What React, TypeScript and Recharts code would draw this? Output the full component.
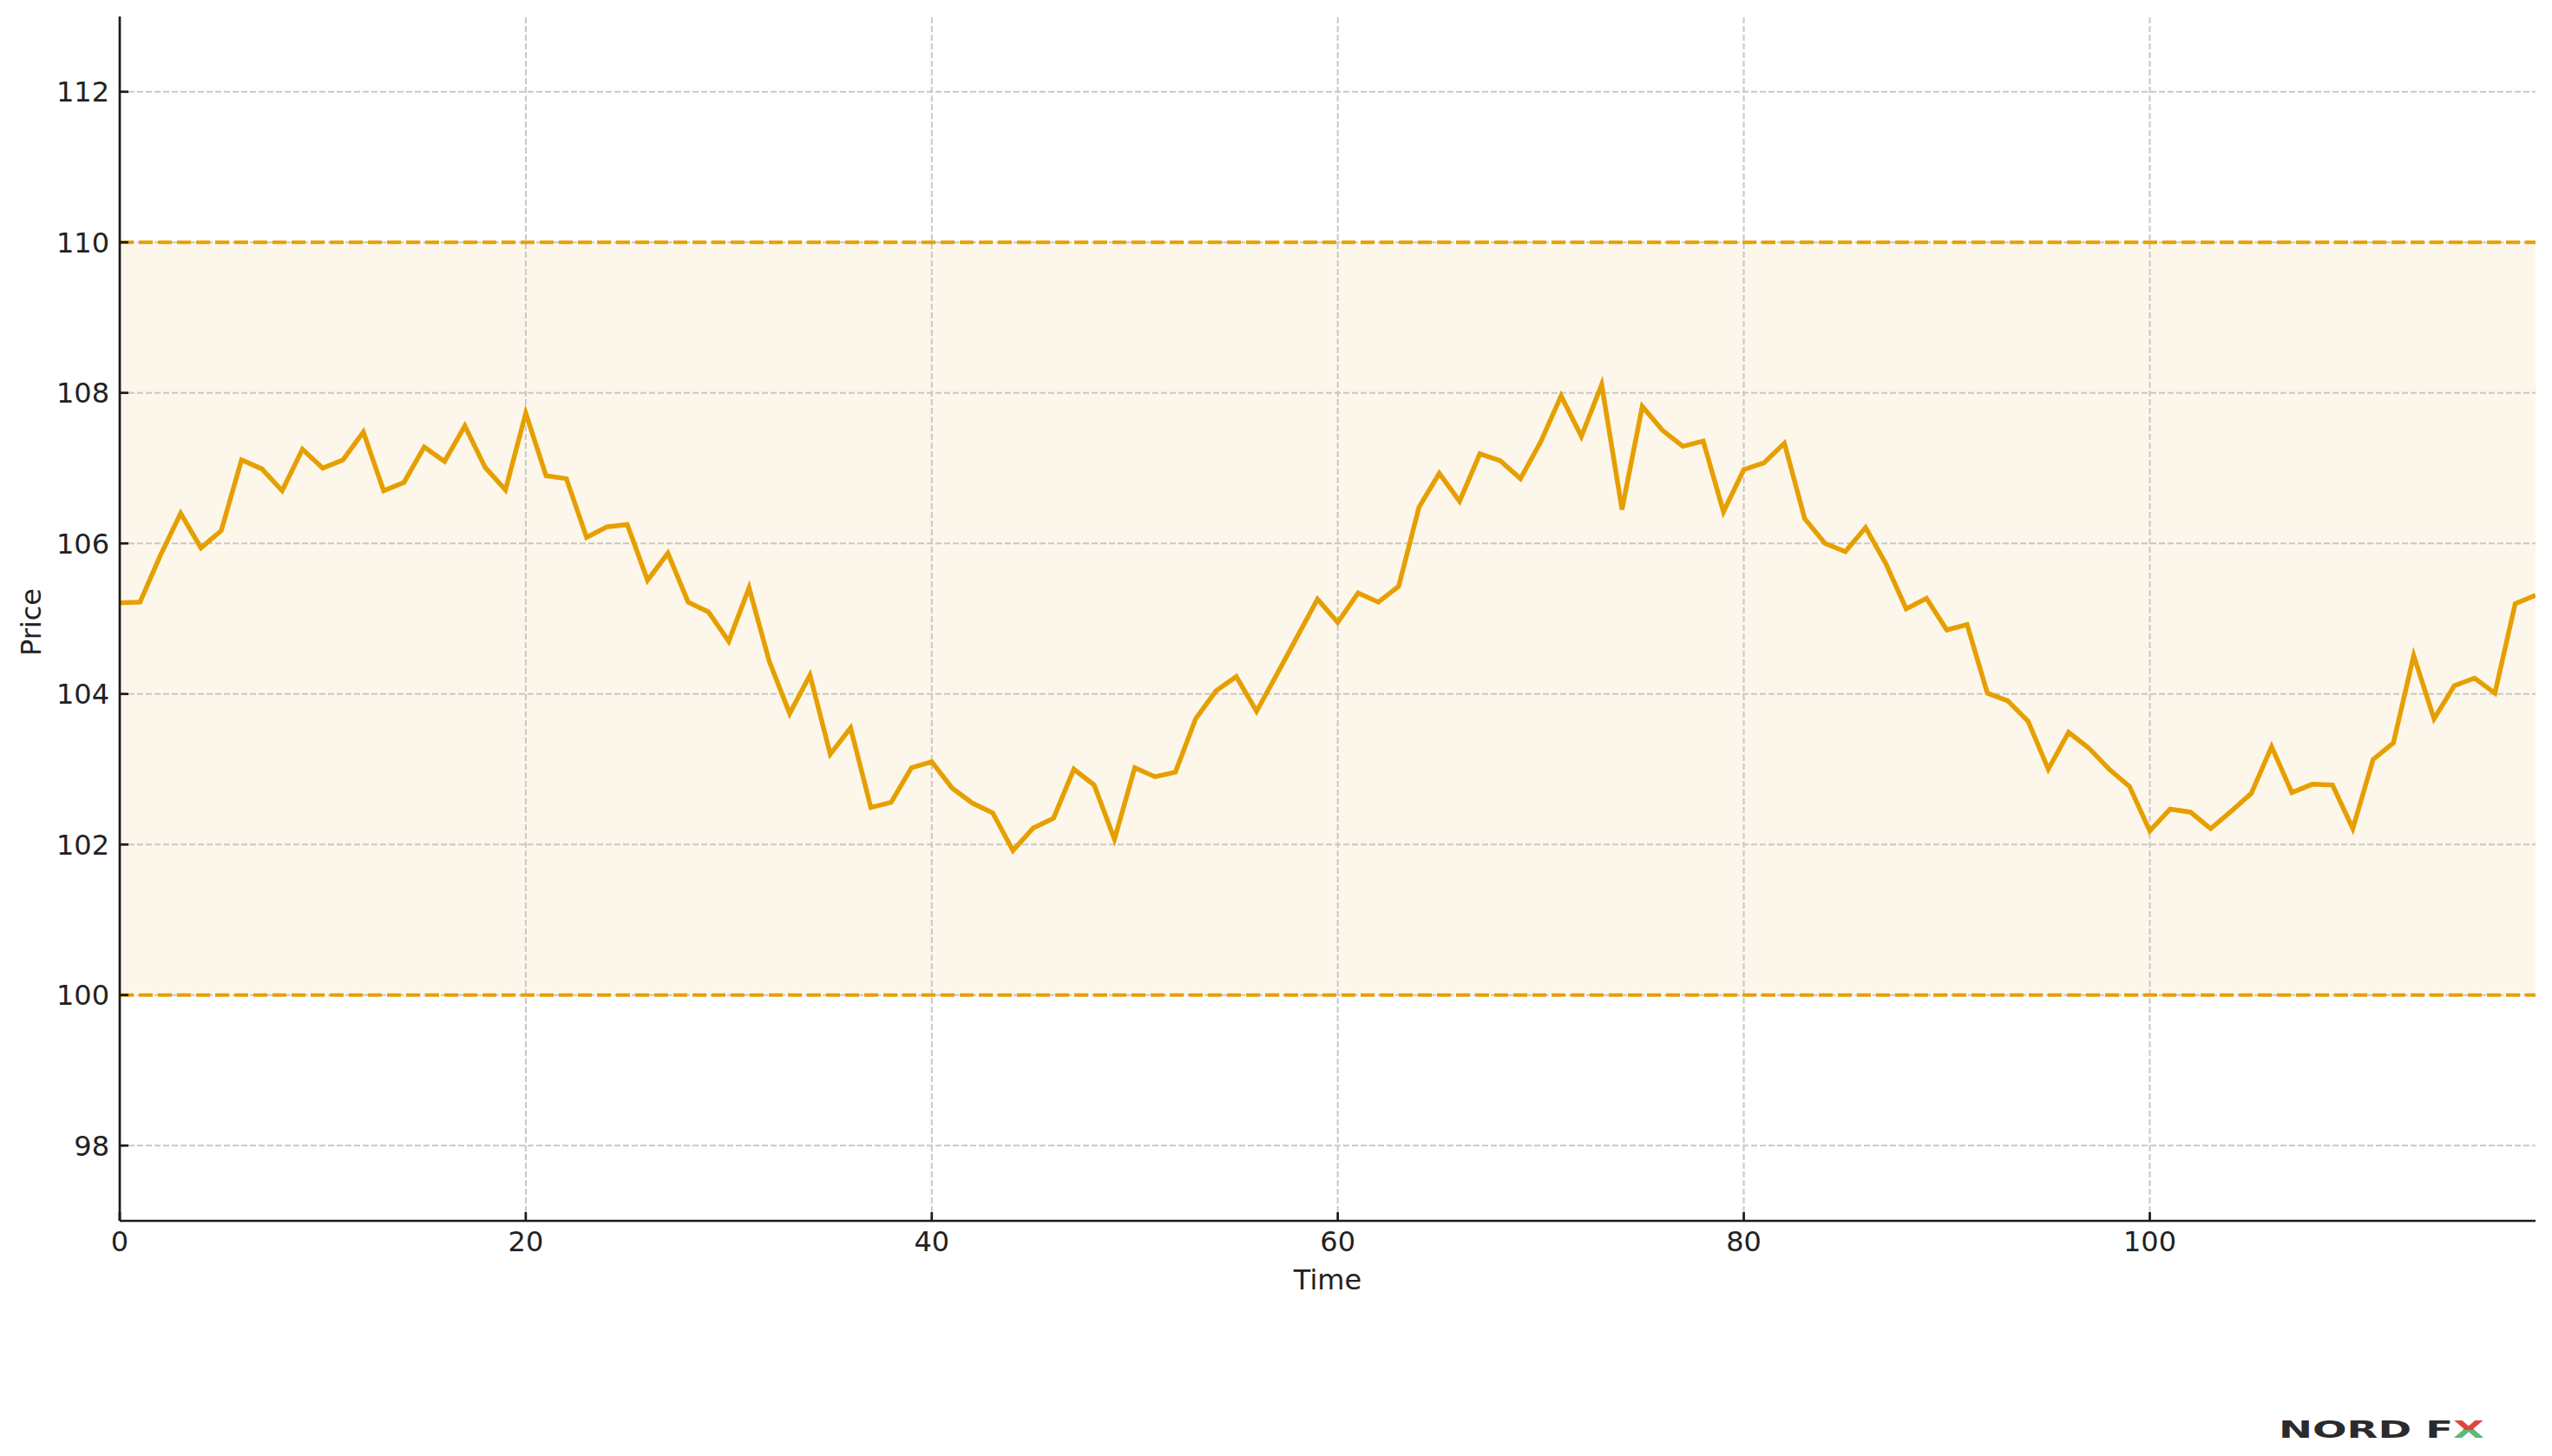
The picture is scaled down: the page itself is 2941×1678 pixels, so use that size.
import {
  LineChart,
  Line,
  XAxis,
  YAxis,
  ReferenceArea,
  ReferenceLine,
} from "recharts";

// price, one value per time step 0..119
const PRICES = [
  105.21, 105.22, 105.84, 106.4, 105.94, 106.17, 107.11, 106.99, 106.7, 107.25,
  107.0, 107.11, 107.48, 106.7, 106.81, 107.28, 107.09, 107.56, 107.01, 106.71,
  107.73, 106.9, 106.86, 106.08, 106.22, 106.25, 105.51, 105.87, 105.22, 105.09,
  104.7, 105.41, 104.43, 103.74, 104.25, 103.2, 103.55, 102.49, 102.56, 103.02,
  103.1, 102.75, 102.55, 102.42, 101.92, 102.22, 102.35, 103.0, 102.79, 102.07,
  103.02, 102.9, 102.96, 103.67, 104.04, 104.23, 103.77, 104.26, 104.76, 105.26,
  104.95, 105.34, 105.22, 105.43, 106.48, 106.93, 106.56, 107.19, 107.1, 106.86,
  107.35, 107.96, 107.42, 108.11, 106.45, 107.82, 107.5, 107.29, 107.36, 106.42,
  106.98, 107.07, 107.33, 106.33, 106.0, 105.89, 106.21, 105.73, 105.13, 105.27,
  104.85, 104.92, 104.01, 103.91, 103.64, 103.0, 103.49, 103.28, 103.0, 102.77,
  102.18, 102.47, 102.43, 102.21, 102.44, 102.68, 103.3, 102.69, 102.8, 102.79,
  102.21, 103.13, 103.35, 104.51, 103.67, 104.11, 104.21, 104.01, 105.2, 105.31,
];

const TIME_TICKS = [0, 20, 40, 60, 80, 100];
const PRICE_TICKS = [98, 100, 102, 104, 106, 108, 110, 112];
const RANGE_LOW = 100;
const RANGE_HIGH = 110;

const data = PRICES.map((price, time) => ({ time, price }));

const FONT = "'DejaVu Sans', sans-serif";
const INK = "#222";
const AXIS = "#1a1a1a";
const ORANGE = "#E69F00";
const GRID = "#c8c8c8";

function YTick({ x, y, payload }: any) {
  return (
    <g>
      <line x1={x + 12} x2={x + 22} y1={y} y2={y} stroke={AXIS} strokeWidth={2.7} />
      <text x={x} y={y} dy="0.36em" textAnchor="end" fontSize={32} fill={INK} fontFamily={FONT}>
        {payload.value}
      </text>
    </g>
  );
}

function XTick({ x, y, payload }: any) {
  return (
    <g>
      <line x1={x} x2={x} y1={y - 12} y2={y - 22} stroke={AXIS} strokeWidth={2.7} />
      <text x={x} y={y} dy="0.71em" textAnchor="middle" fontSize={32} fill={INK} fontFamily={FONT}>
        {payload.value}
      </text>
    </g>
  );
}

export default function App() {
  return (
    <div style={{ position: "absolute", left: 0, top: 0, width: 2941, height: 1678, background: "#fff" }}>
      <LineChart
        width={2941}
        height={1678}
        data={data}
        margin={{ top: 19, right: 19, left: 38, bottom: 171 }}
      >
        <ReferenceArea y1={RANGE_LOW} y2={RANGE_HIGH} fill={ORANGE} fillOpacity={0.08} stroke="none" />
        {TIME_TICKS.filter((t) => t > 0).map((t) => (
          <ReferenceLine key={"gx" + t} x={t} stroke={GRID} strokeWidth={2} strokeDasharray="7 3" />
        ))}
        {PRICE_TICKS.map((v) => (
          <ReferenceLine key={"gy" + v} y={v} stroke={GRID} strokeWidth={2} strokeDasharray="7 3" />
        ))}
        <XAxis
          dataKey="time"
          type="number"
          domain={[0, 119]}
          ticks={TIME_TICKS}
          allowDataOverflow
          height={100}
          tickSize={0}
          tickMargin={12}
          tick={<XTick />}
          axisLine={{ stroke: AXIS, strokeWidth: 2.7 }}
          label={{
            content: () => (
              <text x={1530} y={1486} textAnchor="middle" fontSize={32} fill={INK} fontFamily={FONT}>
                Time
              </text>
            ),
          }}
        />
        <YAxis
          type="number"
          domain={[97, 113]}
          ticks={PRICE_TICKS}
          allowDataOverflow
          width={100}
          tickSize={0}
          tickMargin={12}
          tick={<YTick />}
          axisLine={{ stroke: AXIS, strokeWidth: 2.7 }}
          label={{
            content: () => (
              <text
                x={47}
                y={717}
                transform="rotate(-90, 47, 717)"
                textAnchor="middle"
                fontSize={32}
                fill={INK}
                fontFamily={FONT}
              >
                Price
              </text>
            ),
          }}
        />
        <ReferenceLine y={RANGE_HIGH} stroke={ORANGE} strokeWidth={4} strokeDasharray="16 6" />
        <ReferenceLine y={RANGE_LOW} stroke={ORANGE} strokeWidth={4} strokeDasharray="16 6" />
        <Line
          type="linear"
          dataKey="price"
          stroke={ORANGE}
          strokeWidth={5.5}
          dot={false}
          activeDot={false}
          isAnimationActive={false}
        />
      </LineChart>
      <svg width={300} height={40} style={{ position: "absolute", left: 2618, top: 1630 }}>
        <defs>
          <linearGradient id="xfill" x1="0" y1="0" x2="0" y2="1">
            <stop offset="50%" stopColor="#E0463B" />
            <stop offset="50%" stopColor="#5DB97A" />
          </linearGradient>
        </defs>
        <text
          x={8}
          y={27}
          fontSize={26}
          fontWeight={900}
          fontFamily={FONT}
          fill="#2b2b2e"
          textLength={237}
          lengthAdjust="spacingAndGlyphs"
        >
          NORD F<tspan fill="url(#xfill)">X</tspan>
        </text>
      </svg>
    </div>
  );
}
